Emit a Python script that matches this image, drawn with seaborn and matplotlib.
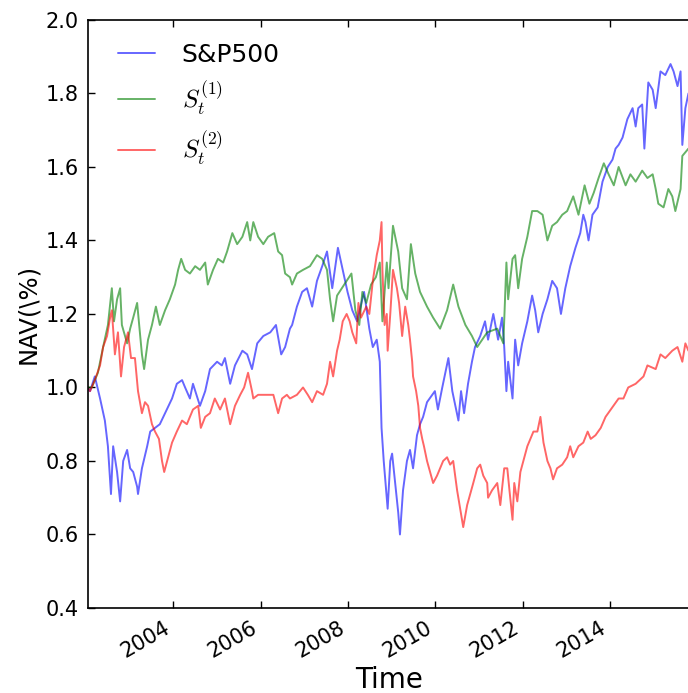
import pandas as pd
import numpy as np
import matplotlib
matplotlib.use('Agg')
import matplotlib.pyplot as plt
import matplotlib.dates as mdates
import seaborn as sns

# values (decimal year, NAV)
sp500_t = [2002.04, 2002.09, 2002.20, 2002.32, 2002.43, 2002.50, 2002.57, 2002.62, 2002.71, 2002.78,
           2002.85, 2002.94, 2003.01, 2003.08, 2003.17, 2003.19, 2003.28, 2003.40, 2003.47, 2003.58,
           2003.69, 2003.81, 2003.97, 2004.08, 2004.20, 2004.27, 2004.38, 2004.45, 2004.61, 2004.73,
           2004.84, 2005.00, 2005.11, 2005.18, 2005.30, 2005.41, 2005.58, 2005.69, 2005.80, 2005.92,
           2006.06, 2006.22, 2006.35, 2006.47, 2006.56, 2006.67, 2006.72, 2006.83, 2006.95, 2007.06,
           2007.18, 2007.29, 2007.41, 2007.52, 2007.64, 2007.77, 2007.88, 2007.99, 2008.10, 2008.21,
           2008.37, 2008.49, 2008.57, 2008.66, 2008.73, 2008.77, 2008.82, 2008.89, 2008.91, 2008.97,
           2009.01, 2009.08, 2009.15, 2009.19, 2009.26, 2009.35, 2009.42, 2009.49, 2009.58, 2009.65,
           2009.72, 2009.81, 2009.93, 2009.99, 2010.06, 2010.16, 2010.23, 2010.30, 2010.39, 2010.46,
           2010.53, 2010.59, 2010.66, 2010.75, 2010.84, 2010.91, 2011.03, 2011.14, 2011.21, 2011.33,
           2011.44, 2011.53, 2011.58, 2011.63, 2011.67, 2011.77, 2011.83, 2011.90, 2011.99, 2012.11,
           2012.22, 2012.29, 2012.36, 2012.46, 2012.57, 2012.68, 2012.79, 2012.88, 2012.98, 2013.09,
           2013.21, 2013.32, 2013.39, 2013.44, 2013.51, 2013.60, 2013.72, 2013.83, 2013.95, 2014.06,
           2014.13, 2014.20, 2014.29, 2014.40, 2014.52, 2014.59, 2014.65, 2014.74, 2014.79, 2014.88,
           2014.98, 2015.05, 2015.16, 2015.27, 2015.39, 2015.46, 2015.55, 2015.62, 2015.66, 2015.73,
           2015.80]
sp500_v = [1.00, 0.99, 1.03, 0.97, 0.91, 0.84, 0.71, 0.84, 0.77, 0.69,
           0.80, 0.83, 0.78, 0.77, 0.73, 0.71, 0.78, 0.84, 0.88, 0.89,
           0.90, 0.93, 0.97, 1.01, 1.02, 1.00, 0.97, 1.01, 0.95, 0.99,
           1.05, 1.07, 1.06, 1.08, 1.01, 1.06, 1.10, 1.09, 1.05, 1.12,
           1.14, 1.15, 1.17, 1.09, 1.11, 1.16, 1.17, 1.22, 1.26, 1.27,
           1.22, 1.29, 1.33, 1.37, 1.27, 1.38, 1.32, 1.26, 1.21, 1.18,
           1.26, 1.16, 1.11, 1.13, 1.07, 0.89, 0.80, 0.70, 0.67, 0.80,
           0.82, 0.74, 0.66, 0.60, 0.72, 0.80, 0.83, 0.78, 0.87, 0.90,
           0.92, 0.96, 0.98, 0.99, 0.94, 1.00, 1.04, 1.08, 0.99, 0.95,
           0.91, 0.99, 0.93, 1.01, 1.07, 1.11, 1.14, 1.18, 1.13, 1.20,
           1.13, 1.19, 1.11, 0.99, 1.07, 0.97, 1.13, 1.06, 1.12, 1.18,
           1.25, 1.21, 1.15, 1.20, 1.24, 1.29, 1.27, 1.20, 1.27, 1.33,
           1.38, 1.42, 1.47, 1.45, 1.40, 1.47, 1.49, 1.56, 1.60, 1.62,
           1.65, 1.66, 1.68, 1.73, 1.76, 1.71, 1.76, 1.77, 1.65, 1.83,
           1.81, 1.76, 1.86, 1.85, 1.88, 1.86, 1.82, 1.86, 1.66, 1.76,
           1.80]

s1_t = [2002.04, 2002.13, 2002.27, 2002.39, 2002.50, 2002.59, 2002.64, 2002.71, 2002.78, 2002.82,
        2002.94, 2003.01, 2003.08, 2003.17, 2003.21, 2003.28, 2003.33, 2003.42, 2003.51, 2003.60,
        2003.69, 2003.81, 2003.92, 2004.04, 2004.11, 2004.18, 2004.27, 2004.38, 2004.50, 2004.61,
        2004.73, 2004.79, 2004.91, 2005.02, 2005.14, 2005.23, 2005.35, 2005.46, 2005.58, 2005.69,
        2005.76, 2005.83, 2005.94, 2006.06, 2006.17, 2006.31, 2006.40, 2006.49, 2006.56, 2006.67,
        2006.72, 2006.83, 2006.97, 2007.13, 2007.29, 2007.41, 2007.52, 2007.59, 2007.66, 2007.75,
        2007.86, 2007.97, 2008.08, 2008.17, 2008.26, 2008.33, 2008.42, 2008.53, 2008.64, 2008.73,
        2008.79, 2008.89, 2008.93, 2009.03, 2009.15, 2009.24, 2009.35, 2009.44, 2009.54, 2009.65,
        2009.81, 2009.95, 2010.11, 2010.27, 2010.41, 2010.53, 2010.69, 2010.84, 2010.96, 2011.19,
        2011.42, 2011.56, 2011.63, 2011.67, 2011.77, 2011.83, 2011.90, 2011.99, 2012.11, 2012.22,
        2012.34, 2012.46, 2012.57, 2012.68, 2012.79, 2012.91, 2013.02, 2013.16, 2013.28, 2013.42,
        2013.53, 2013.63, 2013.74, 2013.86, 2013.97, 2014.09, 2014.20, 2014.36, 2014.47, 2014.59,
        2014.74, 2014.86, 2014.98, 2015.05, 2015.11, 2015.23, 2015.34, 2015.43, 2015.50, 2015.62,
        2015.66, 2015.73, 2015.80]
s1_v = [1.00, 1.00, 1.04, 1.11, 1.17, 1.27, 1.18, 1.24, 1.27, 1.17,
        1.12, 1.16, 1.19, 1.23, 1.18, 1.09, 1.05, 1.13, 1.17, 1.22,
        1.17, 1.21, 1.24, 1.28, 1.32, 1.35, 1.32, 1.31, 1.33, 1.32,
        1.34, 1.28, 1.32, 1.35, 1.34, 1.37, 1.42, 1.39, 1.41, 1.45,
        1.40, 1.45, 1.41, 1.39, 1.41, 1.42, 1.37, 1.36, 1.31, 1.30,
        1.28, 1.31, 1.32, 1.33, 1.36, 1.35, 1.32, 1.24, 1.18, 1.25,
        1.27, 1.29, 1.31, 1.21, 1.17, 1.26, 1.23, 1.28, 1.30, 1.34,
        1.18, 1.34, 1.27, 1.44, 1.37, 1.27, 1.24, 1.39, 1.31, 1.26,
        1.22, 1.19, 1.16, 1.21, 1.28, 1.22, 1.17, 1.14, 1.11, 1.15,
        1.16, 1.12, 1.34, 1.24, 1.35, 1.36, 1.27, 1.35, 1.41, 1.48,
        1.48, 1.47, 1.40, 1.44, 1.45, 1.47, 1.48, 1.52, 1.47, 1.55,
        1.50, 1.53, 1.57, 1.61, 1.58, 1.55, 1.60, 1.55, 1.58, 1.56,
        1.59, 1.57, 1.58, 1.54, 1.50, 1.49, 1.54, 1.52, 1.48, 1.54,
        1.63, 1.64, 1.65]

s2_t = [2002.04, 2002.09, 2002.20, 2002.32, 2002.39, 2002.48, 2002.55, 2002.59, 2002.66, 2002.73,
        2002.80, 2002.87, 2002.96, 2003.03, 2003.12, 2003.19, 2003.28, 2003.35, 2003.42, 2003.51,
        2003.58, 2003.67, 2003.74, 2003.79, 2003.88, 2003.97, 2004.08, 2004.20, 2004.31, 2004.38,
        2004.45, 2004.57, 2004.63, 2004.73, 2004.84, 2004.95, 2005.07, 2005.18, 2005.30, 2005.41,
        2005.53, 2005.62, 2005.71, 2005.80, 2005.83, 2005.94, 2006.06, 2006.17, 2006.29, 2006.40,
        2006.49, 2006.60, 2006.67, 2006.83, 2006.97, 2007.08, 2007.18, 2007.29, 2007.43, 2007.52,
        2007.59, 2007.66, 2007.75, 2007.81, 2007.88, 2007.97, 2008.04, 2008.10, 2008.19, 2008.24,
        2008.30, 2008.42, 2008.49, 2008.57, 2008.66, 2008.73, 2008.77, 2008.79, 2008.84, 2008.89,
        2008.91, 2008.97, 2009.03, 2009.12, 2009.17, 2009.24, 2009.31, 2009.38, 2009.42, 2009.47,
        2009.49, 2009.56, 2009.61, 2009.65, 2009.70, 2009.74, 2009.81, 2009.88, 2009.95, 2010.04,
        2010.11, 2010.18, 2010.27, 2010.34, 2010.41, 2010.50, 2010.57, 2010.64, 2010.73, 2010.80,
        2010.87, 2010.96, 2011.03, 2011.10, 2011.19, 2011.21, 2011.30, 2011.42, 2011.49, 2011.58,
        2011.65, 2011.70, 2011.77, 2011.81, 2011.88, 2011.95, 2012.02, 2012.11, 2012.18, 2012.25,
        2012.34, 2012.41, 2012.48, 2012.57, 2012.64, 2012.70, 2012.79, 2012.91, 2013.02, 2013.09,
        2013.16, 2013.28, 2013.39, 2013.49, 2013.56, 2013.67, 2013.79, 2013.90, 2014.02, 2014.20,
        2014.31, 2014.42, 2014.59, 2014.77, 2014.86, 2015.05, 2015.16, 2015.27, 2015.43, 2015.55,
        2015.66, 2015.73, 2015.80]
s2_v = [1.00, 0.99, 1.02, 1.06, 1.11, 1.14, 1.19, 1.21, 1.09, 1.15,
        1.03, 1.11, 1.15, 1.08, 1.08, 0.99, 0.93, 0.96, 0.95, 0.90,
        0.88, 0.86, 0.80, 0.77, 0.81, 0.85, 0.88, 0.91, 0.90, 0.92,
        0.94, 0.95, 0.89, 0.92, 0.93, 0.97, 0.94, 0.97, 0.90, 0.95,
        0.98, 1.00, 1.04, 0.99, 0.97, 0.98, 0.98, 0.98, 0.98, 0.93,
        0.97, 0.98, 0.97, 0.98, 1.00, 0.98, 0.96, 0.99, 0.98, 1.01,
        1.07, 1.03, 1.10, 1.13, 1.18, 1.20, 1.18, 1.15, 1.12, 1.23,
        1.19, 1.22, 1.20, 1.29, 1.36, 1.40, 1.45, 1.32, 1.17, 1.20,
        1.10, 1.20, 1.32, 1.27, 1.23, 1.14, 1.22, 1.17, 1.13, 1.07,
        1.03, 0.99, 0.95, 0.89, 0.86, 0.84, 0.80, 0.77, 0.74, 0.76,
        0.78, 0.80, 0.81, 0.79, 0.80, 0.72, 0.67, 0.62, 0.68, 0.71,
        0.74, 0.78, 0.79, 0.76, 0.74, 0.70, 0.72, 0.74, 0.68, 0.78,
        0.78, 0.72, 0.64, 0.74, 0.69, 0.77, 0.80, 0.84, 0.86, 0.88,
        0.88, 0.92, 0.85, 0.80, 0.78, 0.75, 0.78, 0.79, 0.81, 0.84,
        0.81, 0.84, 0.85, 0.88, 0.86, 0.87, 0.89, 0.92, 0.94, 0.97,
        0.97, 1.00, 1.01, 1.03, 1.06, 1.05, 1.09, 1.08, 1.10, 1.11,
        1.07, 1.12, 1.10]

labels = ['S&P500', r'$S_t^{(1)}$', r'$S_t^{(2)}$']
colors = ['blue', 'green', 'red']


def to_date(years):
    years = np.asarray(years)
    y0 = np.floor(years).astype(int)
    start = pd.to_datetime([f'{y}-01-01' for y in y0])
    days = (years - y0) * 365.25
    return start + pd.to_timedelta(days, unit='D')


frames = []
for lab, t, v in zip(labels, [sp500_t, s1_t, s2_t], [sp500_v, s1_v, s2_v]):
    frames.append(pd.DataFrame({'Time': to_date(t), 'NAV': v, 'series': lab}))
df = pd.concat(frames, ignore_index=True)

sns.set_theme(style='white')
plt.rcParams['font.family'] = ['DejaVu Sans']
plt.rcParams['mathtext.fontset'] = 'cm'
plt.rcParams['text.color'] = 'black'
plt.rcParams['axes.labelcolor'] = 'black'
plt.rcParams['xtick.color'] = 'black'
plt.rcParams['ytick.color'] = 'black'
plt.rcParams['xtick.direction'] = 'in'
plt.rcParams['ytick.direction'] = 'in'

fig = plt.figure(figsize=(6.88, 6.93), dpi=100)
# x range 2002.05 .. 2015.85, right edge slightly past the figure edge
ax = fig.add_axes([0.1283, 0.1227, 0.8755, 0.8485])

sns.lineplot(data=df, x='Time', y='NAV', hue='series', hue_order=labels,
             palette=dict(zip(labels, colors)), estimator=None, sort=True,
             alpha=0.6, linewidth=1.4, ax=ax)

ax.set_xlim(to_date([2002.05])[0], to_date([2015.85])[0])
ax.set_ylim(0.4, 2.0)
ax.set_yticks(np.arange(0.4, 2.01, 0.2))
ax.yaxis.set_major_formatter(matplotlib.ticker.FormatStrFormatter('%.1f'))
ax.xaxis.set_major_locator(mdates.YearLocator(2))
ax.xaxis.set_major_formatter(mdates.DateFormatter('%Y'))
ax.tick_params(axis='both', which='major', labelsize=15, length=5, width=1,
               bottom=True, left=True, top=True, right=False,
               colors='black', pad=7)
for lbl in ax.get_xticklabels():
    lbl.set_rotation(30)
    lbl.set_ha('right')
for sp in ax.spines.values():
    sp.set_color('black')
    sp.set_linewidth(1.2)

ax.set_xlabel('Time', fontsize=20, labelpad=3)
ax.set_ylabel('NAV(\\%)', fontsize=17.5, labelpad=4)

handles, labs = ax.get_legend_handles_labels()
for h in handles:
    h.set_alpha(0.6)
    h.set_linewidth(1.4)
ax.legend(handles, labs, loc='upper left', frameon=False, fontsize=18,
          handlelength=1.5, handletextpad=1.05, labelspacing=0.5,
          bbox_to_anchor=(0.012, 0.999))

fig.savefig('out.png', dpi=100)
